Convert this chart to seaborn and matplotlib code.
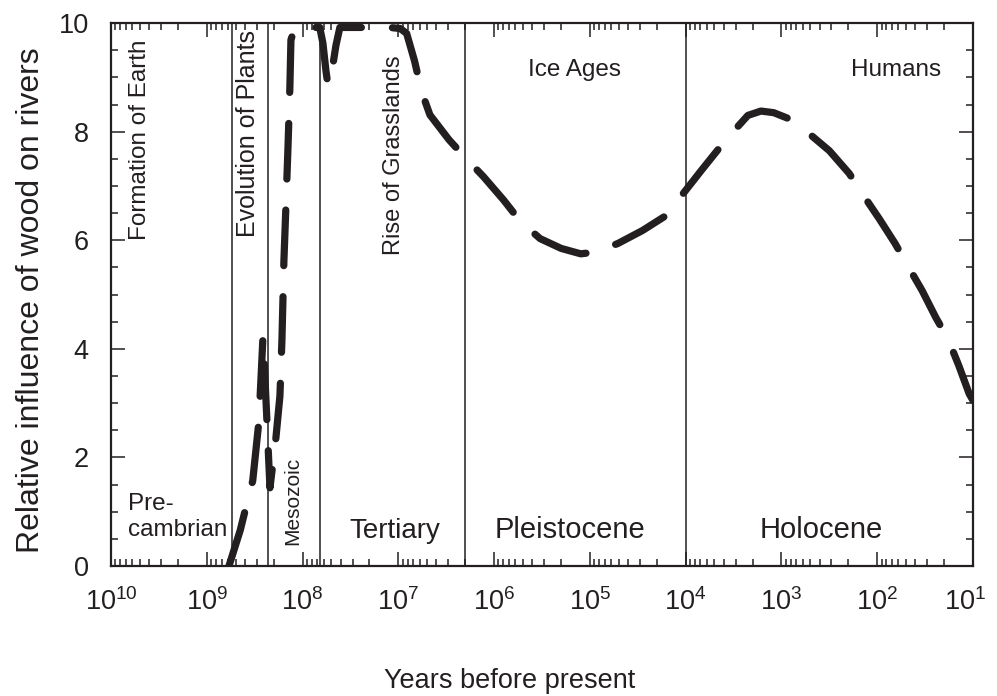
"""
Relative influence of wood on rivers through geological time
"""
import matplotlib
matplotlib.use("Agg")
import matplotlib.pyplot as plt
import matplotlib.ticker as mticker
import numpy as np
import pandas as pd
import seaborn as sns

sns.set_theme(style="ticks")
plt.rcParams["font.family"] = ["Liberation Sans", "DejaVu Sans"]
plt.rcParams["mathtext.fontset"] = "custom"
plt.rcParams["mathtext.rm"] = "Liberation Sans"
plt.rcParams["mathtext.it"] = "Liberation Sans:italic"

INK = "#231f20"
TICK_SIZE = 19.5
TICK_PAD = 16

# curve: log10(years before present) and relative influence
log_years = [
    8.768, 8.65, 8.58, 8.52, 8.455, 8.413, 8.38, 8.34, 8.28, 8.236,
    8.215, 8.194, 8.173, 8.152, 8.132, 8.121, 8.08, 7.82, 7.787, 7.756,
    7.735, 7.683, 7.651, 7.61, 7.09, 6.98, 6.913, 6.83, 6.757, 6.67,
    6.47, 6.294, 6.110, 5.90, 5.722, 5.519, 5.30, 5.095, 4.948, 4.708,
    4.45, 4.173, 4.026, 3.83, 3.639, 3.473, 3.35, 3.214, 3.08, 2.938,
    2.735, 2.50, 2.292, 2.145, 1.98, 1.813, 1.684, 1.53, 1.389, 1.260,
    1.15, 1.039, 1.0,
]
influence = [
    0.0, 0.66, 1.16, 1.57, 2.67, 4.22, 3.0, 1.44, 2.32, 3.13,
    4.16, 5.64, 6.65, 7.70, 8.82, 9.69, 9.92, 9.92, 9.63, 9.13,
    8.86, 9.23, 9.59, 9.92, 9.92, 9.90, 9.81, 9.30, 8.74, 8.31,
    7.85, 7.51, 7.17, 6.74, 6.34, 6.03, 5.85, 5.75, 5.78, 5.94,
    6.18, 6.49, 6.86, 7.30, 7.72, 8.06, 8.30, 8.38, 8.35, 8.25,
    8.00, 7.65, 7.23, 6.83, 6.40, 5.94, 5.54, 5.07, 4.58, 4.18,
    3.70, 3.17, 3.05,
]

# era boundaries (years before present)
boundary_years = [5.4e8, 2.3e8, 6.6e7, 2.0e6, 1.0e4]

# (text, years, y, rotation, size, vertical alignment)
labels = [
    ("Formation of Earth", 5.0e9, 9.69, 90, 17.5, "top"),
    ("Evolution of Plants", 3.7e8, 9.87, 90, 18, "top"),
    ("Rise of Grasslands", 1.1e7, 9.41, 90, 17, "top"),
    ("Mesozoic", 1.26e8, 0.39, 90, 15, "bottom"),
    ("Pre-\ncambrian", 2.0e9, 0.90, 0, 17.5, "center"),
    ("Tertiary", 1.08e7, 0.52, 0, 20, "baseline"),
    ("Pleistocene", 1.6e5, 0.52, 0, 21, "baseline"),
    ("Holocene", 3.8e2, 0.52, 0, 21, "baseline"),
    ("Ice Ages", 1.44e5, 9.02, 0, 17.5, "baseline"),
    ("Humans", 6.4e1, 9.02, 0, 17.5, "baseline"),
]


def build_frame():
    """returns the curve as a dataframe"""
    return pd.DataFrame(
        {"years": np.power(10.0, log_years), "influence": influence}
    )


def decade_label(value):
    return r"$\mathdefault{10^{%d}}$" % round(np.log10(value))


def draw(curve_df):
    fig = plt.figure(figsize=(9.97, 6.96), dpi=100)
    ax = fig.add_axes([0.1113, 0.1868, 0.8646, 0.780])

    for year in boundary_years:
        ax.axvline(year, color=INK, linewidth=1.1, zorder=1)

    sns.lineplot(
        data=curve_df, x="years", y="influence", sort=False, estimator=None,
        color=INK, linewidth=5.2, linestyle=(0, (7.7, 4.3)),
        dash_capstyle="round", legend=False, ax=ax, zorder=3,
    )

    ax.set_xscale("log")
    ax.set_xlim(1e10, 1e1)
    ax.set_ylim(0, 10)

    ax.xaxis.set_major_locator(mticker.LogLocator(base=10, numticks=15))
    ax.xaxis.set_minor_locator(
        mticker.LogLocator(base=10, subs=np.arange(2, 10), numticks=15)
    )
    # the last decade label sits at the canvas edge; it is drawn separately
    ax.xaxis.set_major_formatter(mticker.FuncFormatter(
        lambda v, pos: "" if np.isclose(v, 10.0) else decade_label(v)
    ))
    ax.xaxis.set_minor_formatter(mticker.NullFormatter())
    ax.yaxis.set_major_locator(mticker.MultipleLocator(2))
    ax.yaxis.set_minor_locator(mticker.MultipleLocator(0.5))

    ax.tick_params(which="both", direction="in", top=True, right=True,
                   color=INK, width=1.1, labelsize=TICK_SIZE, labelcolor=INK)
    ax.tick_params(which="major", length=10)
    ax.tick_params(which="minor", length=5)
    ax.tick_params(axis="both", which="major", pad=TICK_PAD)

    ax.annotate(decade_label(10.0), xy=(1.0, 0.0), xycoords="axes fraction",
                xytext=(-6, -TICK_PAD), textcoords="offset points",
                ha="center", va="top", fontsize=TICK_SIZE, color=INK)

    for spine in ax.spines.values():
        spine.set_color(INK)
        spine.set_linewidth(1.6)

    ax.set_xlabel("Years before present", fontsize=19.5, color=INK)
    ax.set_ylabel("Relative influence of wood on rivers", fontsize=23,
                  color=INK)
    ax.xaxis.set_label_coords(0.463, -0.188)
    ax.yaxis.set_label_coords(-0.075, 0.49)

    for text, year, yval, rot, size, va in labels:
        ax.text(year, yval, text, rotation=rot, fontsize=size, color=INK,
                ha="center", va=va, multialignment="left", zorder=4)

    fig.savefig("out.png", dpi=100)


if __name__ == "__main__":
    draw(build_frame())
